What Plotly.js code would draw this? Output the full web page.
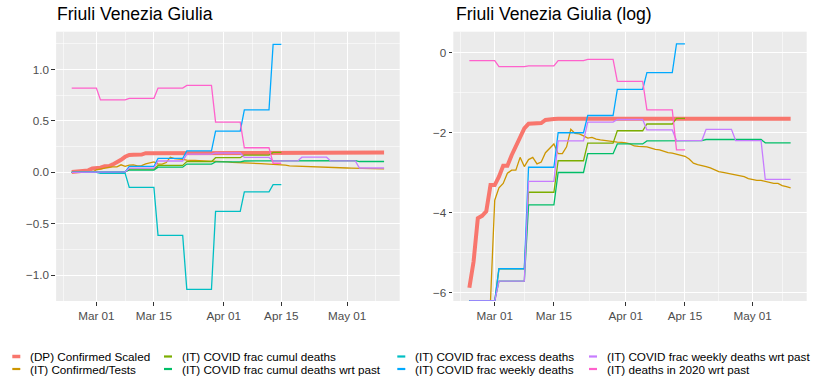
<!DOCTYPE html>
<html>
<head>
<meta charset="utf-8">
<script src="https://cdn.plot.ly/plotly-3.0.1.min.js"></script>
<style>
  body { margin: 0; background: #fff; }
  #graph { width: 814px; height: 380px; }
</style>
</head>
<body>
<div id="graph"></div>
<script>
const seriesNames = [
    "(DP) Confirmed Scaled",
    "(IT) Confirmed/Tests",
    "(IT) COVID frac cumul deaths",
    "(IT) COVID frac cumul deaths wrt past",
    "(IT) COVID frac excess deaths",
    "(IT) COVID frac weekly deaths",
    "(IT) COVID frac weekly deaths wrt past",
    "(IT) deaths in 2020 wrt past",
]
const seriesColors = ["#F8766D", "#CD9600", "#7CAE00", "#00BE67", "#00BFC4", "#00A9FF", "#C77CFF", "#FF61CC"]

// daily, Feb 24 .. Mar 16, then flat to May 10
const dpDates = [
    "2020-02-24", "2020-02-25", "2020-02-26", "2020-02-27", "2020-02-28", "2020-02-29",
    "2020-03-01", "2020-03-02", "2020-03-03", "2020-03-04", "2020-03-05", "2020-03-06",
    "2020-03-07", "2020-03-08", "2020-03-09", "2020-03-10", "2020-03-11", "2020-03-12",
    "2020-03-13", "2020-03-14", "2020-03-15", "2020-03-16", "2020-05-10",
]
const dpValues = [
    0.0028, 0.0054, 0.0159, 0.0169, 0.0189, 0.0365,
    0.0365, 0.045, 0.059, 0.059, 0.077, 0.095,
    0.122, 0.151, 0.169, 0.170, 0.170, 0.172,
    0.186, 0.186, 0.190, 0.192, 0.192,
]

// daily, Feb 24 .. May 10
const testsStart = "2020-02-24"
const testsValues = [
    0, 0, 0, 0, 0, 0,
    0.025, 0.034, 0.038, 0.049, 0.053, 0.053, 0.073, 0.058, 0.069, 0.073,
    0.062, 0.065, 0.082, 0.092, 0.102, 0.080, 0.080, 0.095, 0.147, 0.133,
    0.131, 0.125, 0.118, 0.120, 0.115, 0.113, 0.112, 0.111, 0.109, 0.107, 0.106,
    0.105, 0.102, 0.097, 0.096, 0.096, 0.095, 0.092, 0.089, 0.088, 0.085,
    0.082, 0.081, 0.079, 0.077, 0.075, 0.070, 0.063, 0.061, 0.060, 0.058,
    0.056, 0.053, 0.051, 0.050, 0.049, 0.048, 0.047, 0.046, 0.045, 0.043,
    0.042, 0.041, 0.041, 0.040, 0.039, 0.038, 0.038, 0.036, 0.035, 0.034,
]

// weekly values (Monday starts)
const weekStarts = [
    "2020-02-24", "2020-03-02", "2020-03-09", "2020-03-16", "2020-03-23", "2020-03-30",
    "2020-04-06", "2020-04-13", "2020-04-20", "2020-04-27", "2020-05-04",
]
const cumulDeaths = [0, 0.0045, 0.0305, 0.067, 0.104, 0.142, 0.168, 0.193]
const cumulDeathsPast = [0, 0.0033, 0.0222, 0.050, 0.080, 0.102, 0.110, 0.111, 0.114, 0.114, 0.105]
const excessDeaths = [0, -0.01, -0.146, -0.613, -1.138, -0.38, -0.19, -0.12]
const weeklyDeaths = [0, 0.0045, 0.057, 0.135, 0.208, 0.40, 0.607, 1.245]
const weeklyDeathsPast = [0, 0.0033, 0.040, 0.110, 0.176, 0.188, 0.145, 0.111, 0.147, 0.111, 0.042]
const deaths2020Past = [0.819, 0.705, 0.72, 0.819, 0.845, 0.488, 0.239, 0.088]
const weeklyLastDay = ["2020-04-15", "2020-05-10", "2020-04-15", "2020-04-15", "2020-05-10", "2020-04-15"]

const tickDates = ["2020-03-01", "2020-03-15", "2020-04-01", "2020-04-15", "2020-05-01"]
const tickLabels = ["Mar 01", "Mar 15", "Apr 01", "Apr 15", "May 01"]
const minorDates = ["2020-02-22", "2020-03-08", "2020-03-23 12:00", "2020-04-08", "2020-04-23", "2020-05-08"]

const W = 814, H = 380
const xRange = ["2020-02-20 04:48", "2020-05-13 19:12"]
const linRange = [-1.252, 1.368]
const logRange = [-6.21, 0.525]

const addDays = (iso, n) => {
    const d = new Date(iso + "T00:00:00Z")
    d.setUTCDate(d.getUTCDate() + n)
    return d.toISOString().slice(0, 10)
}

const weeklySteps = (values, lastDay) => {
    const x = []
    const y = []
    values.forEach((v, i) => {
        const end = i === values.length - 1 ? lastDay : addDays(weekStarts[i], 6)
        x.push(weekStarts[i], end)
        y.push(v, v)
    })
    return {x, y}
}

// ggplot puts log(0) = -Inf on the panel edge
const toLog = (v) => v > 0 ? Math.log(v) : (v === 0 ? logRange[0] : null)

const series = [
    {x: dpDates, y: dpValues},
    {x: testsValues.map((v, i) => addDays(testsStart, i)), y: testsValues},
]
const weekly = [cumulDeaths, cumulDeathsPast, excessDeaths, weeklyDeaths, weeklyDeathsPast, deaths2020Past]
weekly.forEach((vals, i) => series.push(weeklySteps(vals, weeklyLastDay[i])))

const plotData = []
series.forEach((s, i) => {
    const line = {color: seriesColors[i], width: i === 0 ? 4 : 1.3}
    plotData.push({x: s.x, y: s.y, type: "scatter", mode: "lines", name: seriesNames[i],
        line, xaxis: "x", yaxis: "y", showlegend: false, hoverinfo: "skip"})
    plotData.push({x: s.x, y: s.y.map(toLog), type: "scatter", mode: "lines", name: seriesNames[i],
        line, xaxis: "x2", yaxis: "y2", showlegend: false, hoverinfo: "skip"})
})
// draw in factor order within each panel
plotData.sort((a, b) => (a.xaxis === "x" ? 0 : 1) - (b.xaxis === "x" ? 0 : 1))

const tickFont = {family: "Liberation Sans, Arial, sans-serif", size: 11.7, color: "#4D4D4D"}
const baseAxis = {
    ticks: "outside", ticklen: 3.7, tickwidth: 1.07, tickcolor: "#333333",
    tickfont: tickFont, showgrid: true, gridcolor: "#FFFFFF", gridwidth: 1.07,
    zeroline: false, showline: false, fixedrange: true,
}
const xAxis = (domain, anchor) => ({
    ...baseAxis, type: "date", range: xRange, domain, anchor,
    tickmode: "array", tickvals: tickDates, ticktext: tickLabels,
    minor: {tickmode: "array", tickvals: minorDates, showgrid: true, gridcolor: "#FFFFFF", gridwidth: 0.53, ticks: ""},
})
const yDomain = [1 - 301 / H, 1 - 31.7 / H]

// legend drawn ggplot-style: 4 columns x 2 rows, filled by column
const legendTextX = [28.3, 180, 413.3, 605]
const legendRowY = [356.5, 369]
const annotations = []
const shapes = []
seriesNames.forEach((name, i) => {
    const col = Math.floor(i / 2)
    const row = i % 2
    const tx = legendTextX[col]
    const ty = legendRowY[row]
    annotations.push({text: name, xref: "paper", yref: "paper", x: tx / W, y: 1 - ty / H,
        xanchor: "left", yanchor: "middle", showarrow: false,
        font: {family: "Liberation Sans, Arial, sans-serif", size: 11.7, color: "#000000"}})
    shapes.push({type: "line", xref: "paper", yref: "paper", x0: (tx - 16) / W, x1: (tx - 8) / W,
        y0: 1 - ty / H, y1: 1 - ty / H, line: {color: seriesColors[i], width: i === 0 ? 3.5 : 2.2}})
})

const titles = [["Friuli Venezia Giulia", 55], ["Friuli Venezia Giulia (log)", 453.5]]
titles.forEach(([text, px]) => {
    annotations.push({text, xref: "paper", yref: "paper", x: px / W, y: 1 - 14.5 / H,
        xanchor: "left", yanchor: "middle", showarrow: false,
        font: {family: "Liberation Sans, Arial, sans-serif", size: 17.6, color: "#000000"}})
})

Plotly.newPlot(document.getElementById("graph"), plotData, {
    width: W,
    height: H,
    margin: {l: 0, r: 0, t: 0, b: 0},
    paper_bgcolor: "#FFFFFF",
    plot_bgcolor: "#EBEBEB",
    font: {family: "Liberation Sans, Arial, sans-serif"},
    showlegend: false,
    xaxis: xAxis([56.1 / W, 399.7 / W], "y"),
    yaxis: {...baseAxis, domain: yDomain, anchor: "x", range: linRange, tickmode: "array",
        tickvals: [-1, -0.5, 0, 0.5, 1], tickformat: ".1f",
        minor: {dtick: 0.25, showgrid: true, gridcolor: "#FFFFFF", gridwidth: 0.53, ticks: ""}},
    xaxis2: xAxis([453.3 / W, 806.7 / W], "y2"),
    yaxis2: {...baseAxis, domain: yDomain, anchor: "x2", range: logRange, tickmode: "array",
        tickvals: [-6, -4, -2, 0],
        minor: {dtick: 1, showgrid: true, gridcolor: "#FFFFFF", gridwidth: 0.53, ticks: ""}},
    annotations,
    shapes,
}, {staticPlot: true});
</script>
</body>
</html>
